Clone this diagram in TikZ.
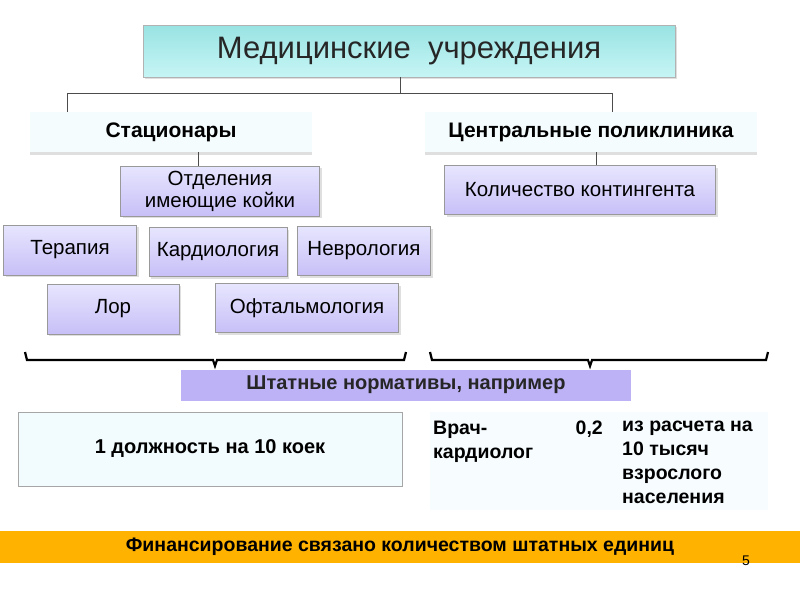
\documentclass[tikz,border=0pt]{standalone}
\usepackage{fontspec}
\setmainfont{Liberation Sans}
\usetikzlibrary{shadows}
\begin{document}
\begin{tikzpicture}[x=1pt,y=-1pt,
  box/.style={draw=gray!80,line width=0.6pt,inner sep=0pt,drop shadow={shadow xshift=2pt,shadow yshift=-2pt,opacity=0.25}},
  lav/.style={box,top color=violet!8!blue!10,bottom color=violet!25!blue!25,font=\fontsize{20.5}{23}\selectfont},
  light/.style={inner sep=0pt,fill=cyan!4,drop shadow={shadow xshift=0pt,shadow yshift=-3pt,opacity=0.25},font=\bfseries\fontsize{21}{24}\selectfont},
  conn/.style={draw=black!70,line width=0.6pt},
  brace/.style={line width=2.2pt,black}]
\useasboundingbox (0,0) rectangle (800,600);
\fill[white] (0,0) rectangle (800,600);
\node[box,draw=gray!60,top color=teal!55!cyan!40,bottom color=teal!35!cyan!22,minimum width=532pt,minimum height=52pt,text=black!85,font=\fontsize{31}{34}\selectfont] (title) at (409,51) {Медицинские\ \ учреждения};
\node[light,minimum width=282pt,minimum height=40pt] (stac) at (171,132) {Стационары};
\node[light,minimum width=332pt,minimum height=40pt] (cent) at (591,132) {Центральные поликлиника};
\coordinate (j) at (400,93);
\draw[conn] (title.south -| j) -- (j);
\draw[conn] (67,112) |- (612,93) -- (612,112);
\node[lav,minimum width=199pt,minimum height=50pt,align=center,font=\fontsize{20.5}{22}\selectfont] (otd) at (220,191) {Отделения\\имеющие койки};
\node[lav,minimum width=271pt,minimum height=49pt] (kol) at (580,190) {Количество контингента};
\draw[conn] (stac.south -| 198,0) -- (otd.north -| 198,0);
\draw[conn] (cent.south -| 596,0) -- (kol.north -| 596,0);
\node[lav,minimum width=133pt,minimum height=50pt] (ter) at (70,250) {Терапия};
\node[lav,minimum width=138pt,minimum height=49pt] (kar) at (218,252) {Кардиология};
\node[lav,minimum width=133pt,minimum height=49pt] (nev) at (364,251) {Неврология};
\node[lav,minimum width=132pt,minimum height=50pt] (lor) at (113,309) {Лор};
\node[lav,minimum width=183pt,minimum height=49pt] (oft) at (307,308) {Офтальмология};
\draw[brace] (25,352) -- (27,360) -- (213,360) -- (215,366) -- (217,360) -- (404,360) -- (406,352);
\draw[brace] (430,352) -- (432,360) -- (588,360) -- (590,366) -- (592,360) -- (766,360) -- (768,352);
\node[fill=violet!25!blue!30,inner sep=0pt,minimum width=450pt,minimum height=31pt,font=\bfseries\fontsize{20}{23}\selectfont,text=black!85] (sht) at (406,385) {Штатные нормативы, например};
\node[draw=gray!70,line width=0.8pt,fill=cyan!5,inner sep=0pt,minimum width=384pt,minimum height=74pt,font=\bfseries\fontsize{20}{23}\selectfont] (one) at (210,449) {1 должность на 10 коек};
\node[fill=cyan!3,inner sep=0pt,minimum width=338pt,minimum height=98pt] (tab) at (599,461) {};
\node[anchor=north west,align=left,font=\bfseries\fontsize{19.5}{24}\selectfont,inner sep=0pt] (vr) at (433,421) {Врач-\\кардиолог};
\node[anchor=north east,font=\bfseries\fontsize{19.5}{24}\selectfont,inner sep=0pt] (zn) at (603,421) {0,2};
\node[anchor=north west,align=left,font=\bfseries\fontsize{19.5}{24}\selectfont,inner sep=0pt] (iz) at (622,421) {из расчета на\\10 тысяч\\взрослого\\населения};
\node[fill=orange!60!yellow,inner sep=0pt,minimum width=800pt,minimum height=32pt,font=\bfseries\fontsize{19.5}{22}\selectfont] (fin) at (400,547) {Финансирование связано количеством штатных единиц};
\node[font=\fontsize{14}{16}\selectfont] (num) at (746,561) {5};
\end{tikzpicture}
\end{document}
